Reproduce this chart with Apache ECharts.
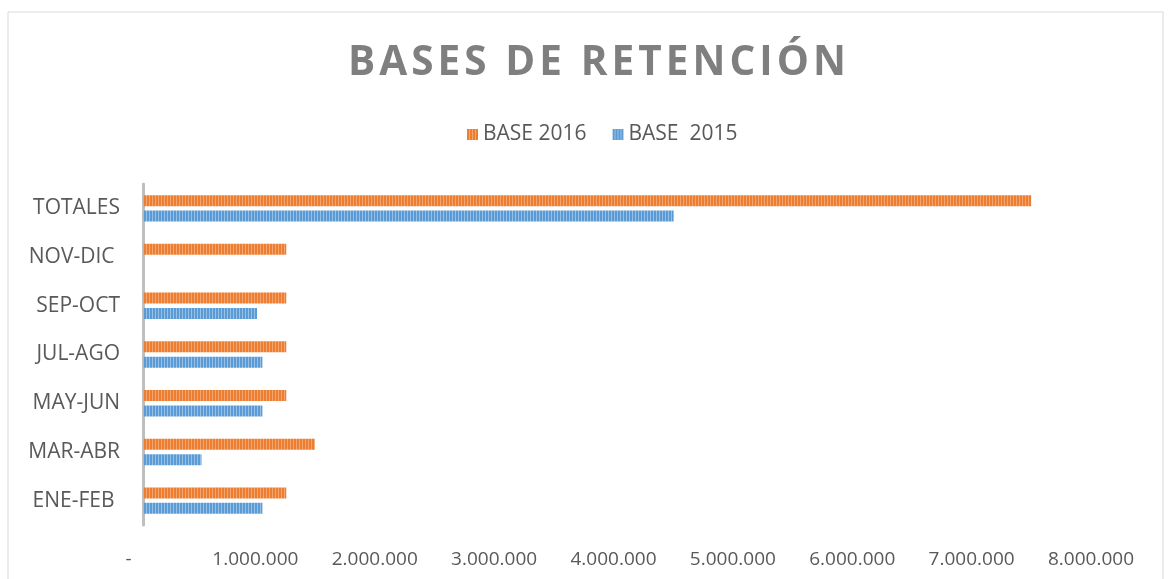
<!DOCTYPE html>
<html>
<head>
<meta charset="utf-8">
<script src="https://cdn.jsdelivr.net/npm/echarts@6/dist/echarts.min.js"></script>
<style>
html,body{margin:0;padding:0;background:#fff;}
#chart{width:1171px;height:579px;}
</style>
</head>
<body>
<div id="chart"></div>
<script>
const categories = ['ENE-FEB ', 'MAR-ABR', 'MAY-JUN', 'JUL-AGO', 'SEP-OCT', 'NOV-DIC ', 'TOTALES'];
const base2016 = [1200000, 1440000, 1200000, 1200000, 1200000, 1200000, 7440000];
const base2015 = [1000000, 490000, 1000000, 1000000, 955000, null, 4445000];
const seriesNames = ['BASE 2016', 'BASE  2015'];
const titleText = 'BASES DE RETENCIÓN';

function stripe(dark, light) {
  const c = document.createElement('canvas');
  c.width = 3; c.height = 1;
  const ctx = c.getContext('2d');
  ctx.fillStyle = dark; ctx.fillRect(0, 0, 2, 1);
  ctx.fillStyle = light; ctx.fillRect(2, 0, 1, 1);
  return { image: c, repeat: 'repeat' };
}
const orangeFill = stripe('#ED7D31', '#F4A670');
const blueFill = stripe('#5B9BD5', '#97C0E6');

function fmt(v) {
  if (v === 0) return '-   ';
  return String(v).replace(/\B(?=(\d{3})+(?!\d))/g, '.');
}

const chart = echarts.init(document.getElementById('chart'), null, { renderer: 'canvas' });
chart.setOption({
  animation: false,
  backgroundColor: '#fff',
  textStyle: { fontFamily: 'Open Sans' },
  graphic: [{
    type: 'rect', shape: { x: 8, y: 12, width: 1155, height: 600 },
    style: { fill: 'none', stroke: '#D9D9D9', lineWidth: 1 }, silent: true, z: -1
  }],
  title: {
    text: titleText.split('').join('\u200A'),
    left: 343,
    top: 38,
    textStyle: { fontFamily: 'Open Sans', fontWeight: 'bold', fontSize: 40.5, color: '#7F7F7F' }
  },
  legend: {
    data: seriesNames,
    top: 119,
    left: 462,
    itemWidth: 11,
    itemHeight: 11,
    itemGap: 26,
    icon: 'rect',
    textStyle: { fontFamily: 'Open Sans', fontSize: 21, color: '#595959' }
  },
  grid: { left: 143, right: 73, top: 184, bottom: 54, containLabel: false },
  xAxis: {
    type: 'value', min: 0, max: 8000000, interval: 1000000,
    axisLine: { show: false }, axisTick: { show: false },
    splitLine: { show: false },
    axisLabel: { formatter: fmt, fontFamily: 'Open Sans', fontSize: 19, color: '#595959', margin: 25, padding: [0, 14, 0, 0] }
  },
  yAxis: {
    type: 'category', data: categories,
    axisLine: { show: true, lineStyle: { color: '#BFBFBF', width: 3 } },
    axisTick: { show: false },
    axisLabel: { fontFamily: 'Open Sans', fontSize: 21, color: '#595959', margin: 23 }
  },
  series: [
    { name: seriesNames[0], type: 'bar', data: base2016, barWidth: 11, barGap: '40%',
      itemStyle: { color: orangeFill } },
    { name: seriesNames[1], type: 'bar', data: base2015, barWidth: 11, barGap: '40%',
      itemStyle: { color: blueFill } }
  ]
});
</script>
</body>
</html>
